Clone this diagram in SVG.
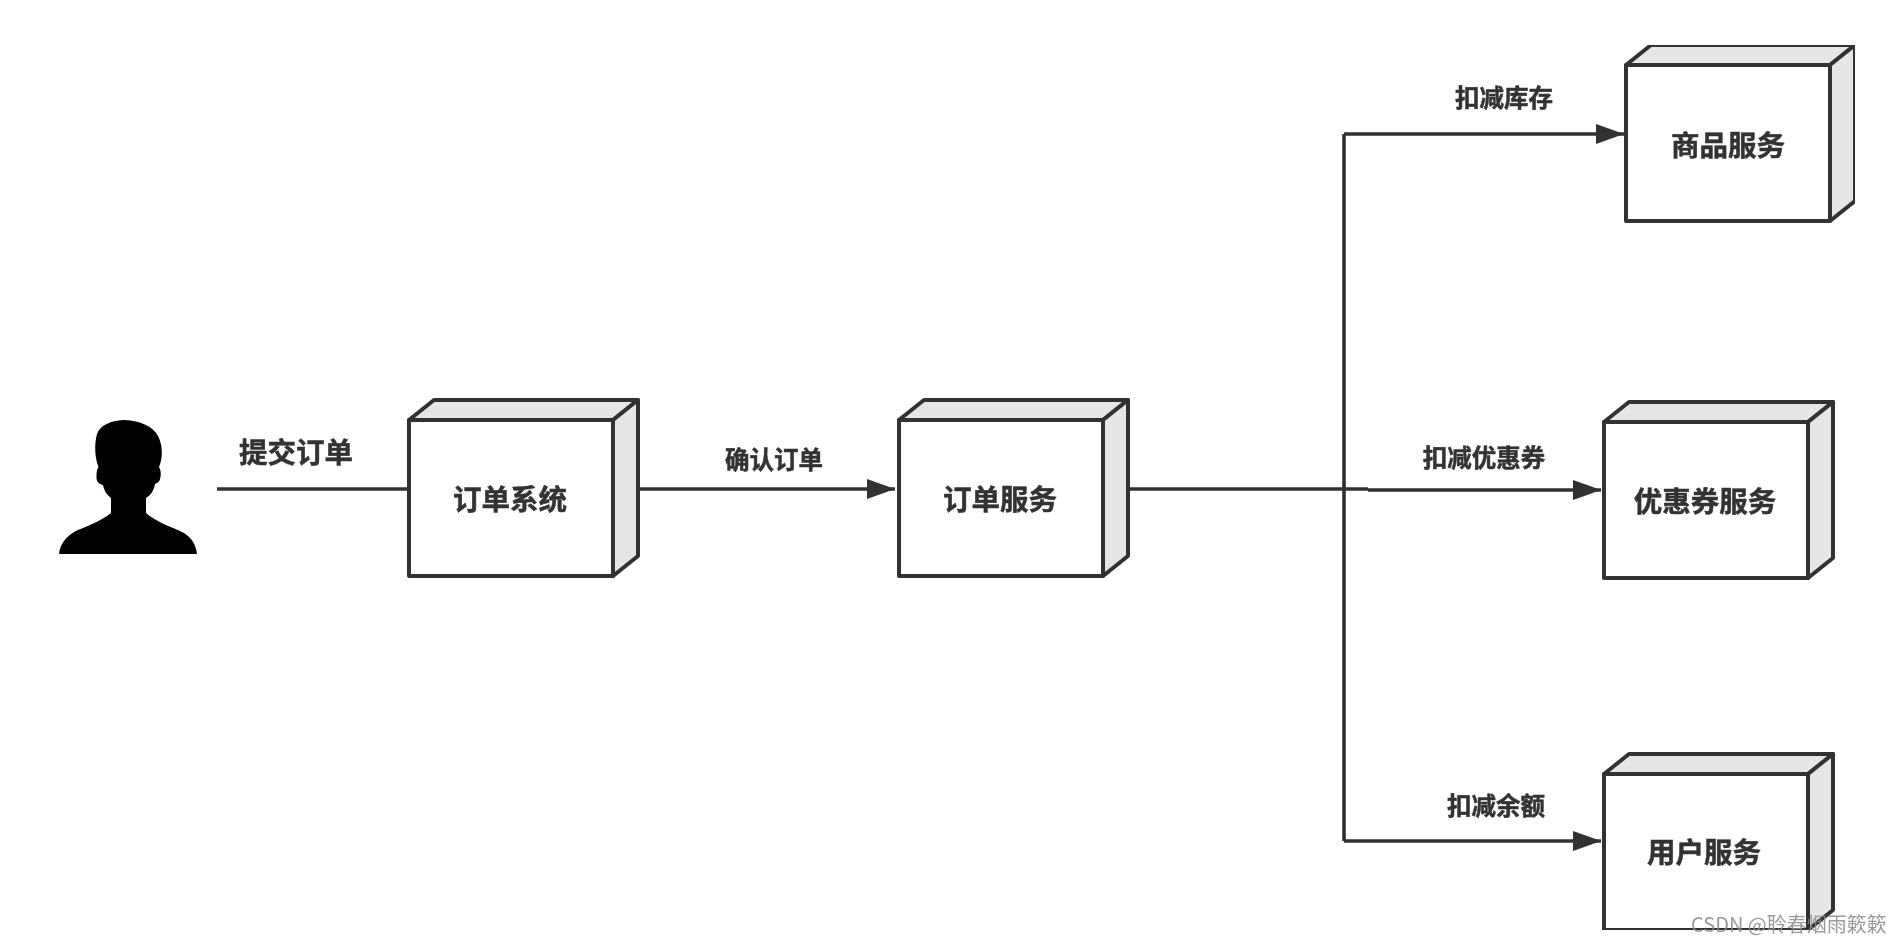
<svg xmlns="http://www.w3.org/2000/svg" width="1898" height="944" viewBox="0 0 1898 944">
<style>
.front{fill:#fff;stroke:#333;stroke-width:4;stroke-linejoin:round}
.side{fill:#e6e6e6;stroke:#333;stroke-width:4;stroke-linejoin:round}
.line{fill:none;stroke:#333;stroke-width:3.6}
text{font-family:"Noto Sans CJK SC","Liberation Sans",sans-serif;font-weight:700;fill:#333;stroke:#333;stroke-width:.5;text-anchor:middle}
.n{font-size:28.5px}
.l{font-size:24.5px}
.wm{font-size:20px;font-weight:400;fill:#8a8a8a;fill-opacity:.85;stroke:none;text-anchor:start}
</style>
<defs>
<filter id="soft" x="0" y="0" width="100%" height="100%"><feGaussianBlur stdDeviation="0.7"/></filter>
<marker id="arrow" markerUnits="userSpaceOnUse" markerWidth="30" markerHeight="22" refX="28" refY="10" orient="auto"><path d="M0 0L28 10L0 20Z" fill="#333"/></marker>
<g id="cube"><path class="side" d="M0 20L25 0H229L204 20Z"/><path class="side" d="M204 20L229 0V156L204 176Z"/><rect class="front" x="0" y="20" width="204" height="156"/></g>
</defs>
<rect width="1898" height="944" fill="#fff"/>
<g filter="url(#soft)">
<g id="connectors">
<path class="line" d="M217 489H409"/>
<path class="line" d="M639 489H895" marker-end="url(#arrow)"/>
<path class="line" d="M1128 489H1368"/>
<path class="line" d="M1368 490H1601" marker-end="url(#arrow)"/>
<path class="line" d="M1344 134V841"/>
<path class="line" d="M1344 134H1624" marker-end="url(#arrow)"/>
<path class="line" d="M1344 841H1601" marker-end="url(#arrow)"/>
</g>
<g id="labels">
<text class="n" x="296" y="463">提交订单</text>
<text class="l" x="774" y="469">确认订单</text>
<text class="l" x="1504" y="107">扣减库存</text>
<text class="l" x="1484" y="467">扣减优惠券</text>
<text class="l" x="1496" y="815">扣减余额</text>
</g>
<g id="user"><path fill="#000" d="M59 554C60 544 66 537 74 532C84 527 100 522 111 513V498C106 494 104 490 103 485C98 484 96 480 96.500 476C96.500 472 97 469 98.500 467C95 458 94 445 97 434C100 425 112 420 125 420C140 421 153 426 158 436C163 446 163 458 159 467C161 470 161 474 160.500 477C160 481 158 483 155 484C154 490 151 495 146 498V513C156 522 172 527 184 533C192 538 196 545 197 554Z"/></g>
<g id="order-system"><use href="#cube" x="409" y="400"/><text class="n" x="510" y="510">订单系统</text></g>
<g id="order-service"><use href="#cube" x="899" y="400"/><text class="n" x="1000" y="510">订单服务</text></g>
<g id="goods-service"><use href="#cube" x="1626" y="45"/><text class="n" x="1728" y="156">商品服务</text></g>
<g id="coupon-service"><use href="#cube" x="1604" y="402"/><text class="n" x="1705" y="512">优惠券服务</text></g>
<g id="user-service"><use href="#cube" x="1604" y="754"/><text class="n" x="1704" y="863">用户服务</text></g>
</g>
<text class="wm" x="1691" y="932">CSDN @聆春烟雨簌簌</text>
</svg>
